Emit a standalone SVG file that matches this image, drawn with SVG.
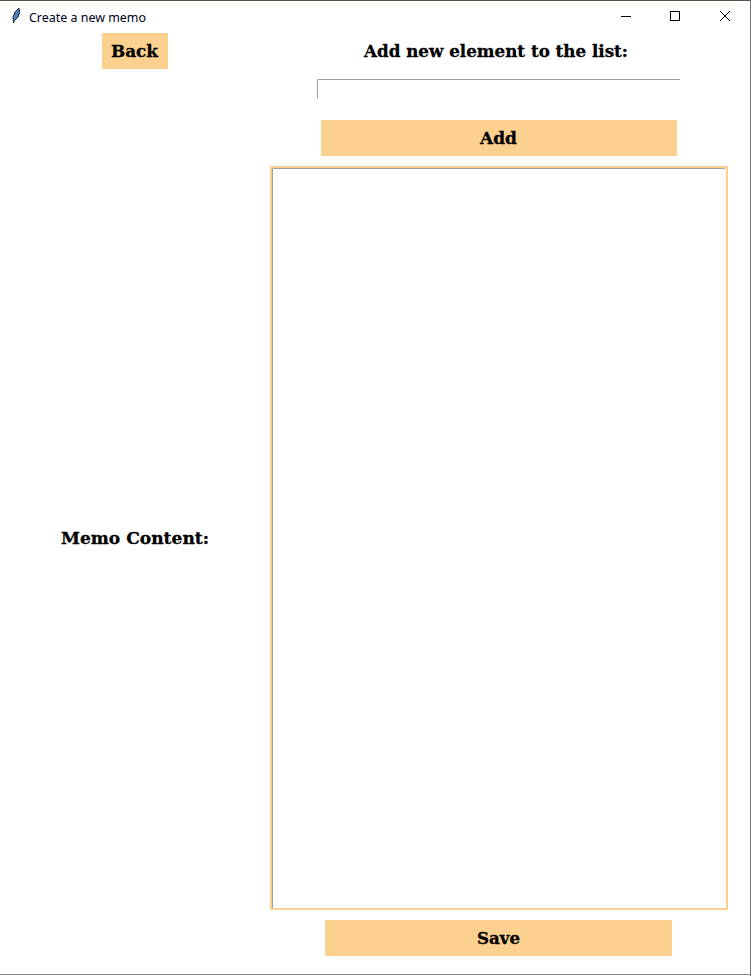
<svg xmlns="http://www.w3.org/2000/svg" width="751" height="976" viewBox="0 0 751 976">
<style>
.btn{fill:#fcd08f}
.lbl{font-family:"DejaVu Serif","Liberation Serif",serif;font-weight:700;font-size:17px;fill:#000;stroke:#000;stroke-width:.3}
.title{font-family:"Noto Sans","Open Sans",sans-serif;font-size:12px;fill:#000022}
.sunken{fill:none;stroke:#a0a0a0;stroke-width:1}
.ctl{fill:none;stroke:#000;stroke-width:1}
</style>
<rect width="751" height="976" fill="#fff"/>
<g id="window-frame">
<rect x="0" y="0" width="751" height="1" fill="#5f504a"/>
<rect x="750" y="0" width="1" height="976" fill="#777"/>
<rect x="0" y="974" width="751" height="1" fill="#8a8a8a"/>
</g>
<g id="title-bar">
<path d="M13.500 23 L13 17 Q14.500 11 19 8 Q20.500 13 18 17 Q16 20 14.500 20 Z" fill="#4a7fc0" stroke="#1c2430" stroke-width="1"/>
<text class="title" x="29" y="22" textLength="117" lengthAdjust="spacingAndGlyphs">Create a new memo</text>
<path class="ctl" d="M621 16.500H631"/>
<rect class="ctl" x="670.500" y="11.500" width="9" height="9"/>
<path class="ctl" d="M720 11L730 21M730 11L720 21"/>
</g>
<g id="back-button">
<rect class="btn" x="102" y="33" width="66" height="36"/>
<text class="lbl" x="111" y="57" textLength="47" lengthAdjust="spacingAndGlyphs">Back</text>
</g>
<g id="add-label">
<text class="lbl" x="364" y="57" textLength="264" lengthAdjust="spacingAndGlyphs">Add new element to the list:</text>
</g>
<g id="entry">
<path class="sunken" d="M317.500 99V79.500H680"/>
</g>
<g id="add-button">
<rect class="btn" x="321" y="120" width="356" height="36"/>
<text class="lbl" x="480" y="144" textLength="37" lengthAdjust="spacingAndGlyphs">Add</text>
</g>
<g id="memo-label">
<text class="lbl" x="61" y="544" textLength="148" lengthAdjust="spacingAndGlyphs">Memo Content:</text>
</g>
<g id="memo-text">
<rect x="271" y="167" width="456" height="742" fill="#fff" stroke="#fcd08f" stroke-width="2"/>
<path class="sunken" d="M272.500 908V168.500H725"/>
</g>
<g id="save-button">
<rect class="btn" x="325" y="920" width="347" height="36"/>
<text class="lbl" x="477" y="944" textLength="43" lengthAdjust="spacingAndGlyphs">Save</text>
</g>
</svg>
